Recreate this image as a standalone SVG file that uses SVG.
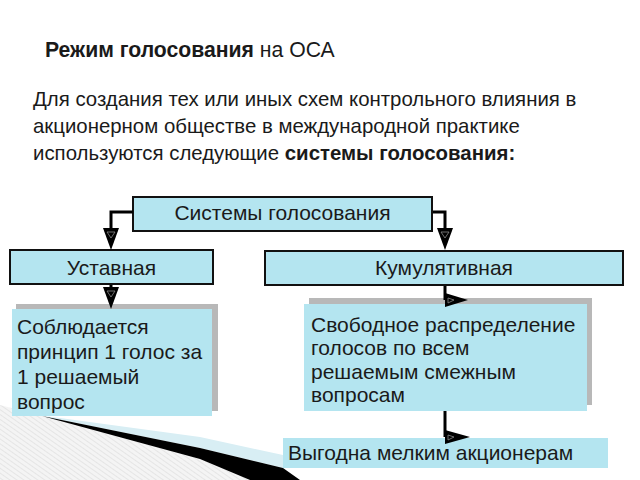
<svg xmlns="http://www.w3.org/2000/svg" width="640" height="480" viewBox="0 0 640 480">
<defs>
<style>
.t{font-family:"Liberation Sans",Arial,sans-serif;font-size:21px;fill:#1a1a1a}
.h{font-size:20.4px}
.box{fill:#b4e5f0;stroke:#111;stroke-width:2}
.plain{fill:#b4e5f0}
.shadow{fill:#b8b8b8}
.ln{fill:none;stroke:#000;stroke-width:3}
.ah{fill:#000}
.mk{fill:none;stroke:#888;stroke-width:0.8}
</style>
<pattern id="hatch" width="4" height="4" patternUnits="userSpaceOnUse" patternTransform="rotate(-55)">
<rect width="4" height="4" fill="#f4f4f4"/>
<line x1="0" y1="0" x2="0" y2="4" stroke="#d6d6d6" stroke-width="1"/>
</pattern>
</defs>
<rect width="640" height="480" fill="#fff"/>
<g id="decoration">
<polygon points="0,405 42,416 200,459 250,480 0,480" fill="url(#hatch)"/>
<polygon points="60,418 200,437 283,455 283,468 200,448 42,416" fill="#d8eef4"/>
<polygon points="42,416 200,448 283,468 300,480 250,480 200,459" fill="#000"/>
</g>
<g id="header">
<text class="t" x="45" y="57" style="font-size:21.2px"><tspan font-weight="bold">Режим голосования</tspan> на ОСА</text>
<text class="t h" x="33" y="106">Для создания тех или иных схем контрольного влияния в</text>
<text class="t h" x="33" y="133">акционерном обществе в международной практике</text>
<text class="t h" x="33" y="160">используются следующие <tspan font-weight="bold">системы голосования:</tspan></text>
</g>
<g id="systems">
<rect class="box" x="133" y="197" width="299" height="34"/>
<text class="t" x="282.5" y="220" text-anchor="middle">Системы голосования</text>
</g>
<g id="ustavnaya">
<rect class="box" x="10" y="250" width="203" height="34"/>
<text class="t" x="111.5" y="275" text-anchor="middle">Уставная</text>
</g>
<g id="kumulyativnaya">
<rect class="box" x="265" y="251" width="358" height="34"/>
<text class="t" x="444" y="275" text-anchor="middle">Кумулятивная</text>
</g>
<g id="soblyudaetsya">
<rect class="shadow" x="16" y="304" width="202" height="107"/>
<rect class="plain" x="12" y="309" width="200" height="107"/>
<text class="t" x="17" y="334">Соблюдается</text>
<text class="t" x="17" y="359">принцип 1 голос за</text>
<text class="t" x="17" y="384">1 решаемый</text>
<text class="t" x="17" y="409">вопрос</text>
</g>
<g id="svobodnoe">
<rect class="shadow" x="309" y="298" width="283" height="107"/>
<rect class="plain" x="304" y="304" width="283" height="107"/>
<text class="t" x="311" y="332">Свободное распределение</text>
<text class="t" x="311" y="355">голосов по всем</text>
<text class="t" x="311" y="379">решаемым смежным</text>
<text class="t" x="311" y="402">вопросам</text>
</g>
<g id="vygodna">
<rect class="plain" x="283" y="438" width="325" height="30"/>
<text class="t" x="288" y="460">Выгодна мелким акционерам</text>
</g>
<g id="connectors">
<polyline class="ln" points="133,212 111,212 111,230"/>
<polygon class="ah" points="103,228 119,228 111,250"/>
<polyline class="ln" points="433,212 445,212 445,230"/>
<polygon class="ah" points="437,228 453,228 445,250"/>
<line class="ln" x1="111" y1="285" x2="111" y2="290"/>
<polygon class="ah" points="103,287 119,287 111,309"/>
<polyline class="ln" points="445,286 445,300"/>
<polygon class="ah" points="445,293 445,307 468,300"/>
<polyline class="ln" points="445,411 445,437"/>
<polygon class="ah" points="445,430 445,444 470,437"/>
<path class="mk" d="M107,232 L115,232 L111,238 Z M441,232 L449,232 L445,238 Z M107,291 L115,291 L111,297 Z M448,298 L448,303 L454,300 Z M448,435 L448,440 L454,437 Z"/>
</g>
</svg>
